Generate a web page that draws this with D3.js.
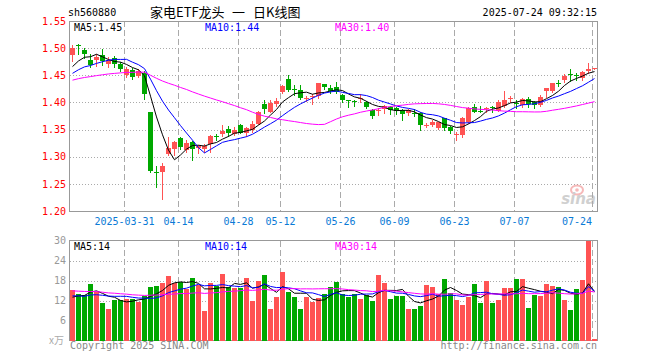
<!DOCTYPE html>
<html><head><meta charset="utf-8">
<script src="https://cdn.jsdelivr.net/npm/d3@7/dist/d3.min.js"></script>
<style>body{margin:0;background:#fff}svg{display:block}</style>
</head><body><svg id="c" width="660" height="360"></svg>
<script>
// ---------- DATA ----------
const dates = ["2025-03-18","2025-03-19","2025-03-20","2025-03-21","2025-03-24","2025-03-25","2025-03-26","2025-03-27","2025-03-28","2025-03-31",
"2025-04-01","2025-04-02","2025-04-03","2025-04-07","2025-04-08","2025-04-09","2025-04-10","2025-04-11","2025-04-14","2025-04-15",
"2025-04-16","2025-04-17","2025-04-18","2025-04-21","2025-04-22","2025-04-23","2025-04-24","2025-04-25","2025-04-28","2025-04-29",
"2025-04-30","2025-05-06","2025-05-07","2025-05-08","2025-05-09","2025-05-12","2025-05-13","2025-05-14","2025-05-15","2025-05-16",
"2025-05-19","2025-05-20","2025-05-21","2025-05-22","2025-05-23","2025-05-26","2025-05-27","2025-05-28","2025-05-29","2025-05-30",
"2025-06-03","2025-06-04","2025-06-05","2025-06-06","2025-06-09","2025-06-10","2025-06-11","2025-06-12","2025-06-13","2025-06-16",
"2025-06-17","2025-06-18","2025-06-19","2025-06-20","2025-06-23","2025-06-24","2025-06-25","2025-06-26","2025-06-27","2025-06-30",
"2025-07-01","2025-07-02","2025-07-03","2025-07-04","2025-07-07","2025-07-08","2025-07-09","2025-07-10","2025-07-11","2025-07-14",
"2025-07-15","2025-07-16","2025-07-17","2025-07-18","2025-07-21","2025-07-22","2025-07-23","2025-07-24"];

const open = [1.487,1.506,1.497,1.478,1.477,1.487,1.471,1.482,1.471,1.451,
1.460,1.449,1.455,1.383,1.272,1.272,1.305,1.316,1.335,1.313,
1.328,1.316,1.314,1.324,1.3385,1.341,1.351,1.342,1.359,1.342,
1.350,1.3615,1.398,1.383,1.398,1.419,1.443,1.4255,1.422,1.408,
1.409,1.411,1.434,1.427,1.429,1.4137,1.404,1.4025,1.406,1.401,
1.386,1.385,1.388,1.392,1.389,1.386,1.380,1.3805,1.380,1.358,
1.3597,1.353,1.3707,1.3553,1.3395,1.3388,1.3645,1.392,1.3845,1.3895,
1.391,1.385,1.393,1.4085,1.3985,1.394,1.4065,1.4014,1.3965,1.4198,
1.4198,1.4365,1.4413,1.4515,1.451,1.446,1.4585,1.4628];

const high = [1.505,1.507,1.500,1.490,1.489,1.499,1.483,1.485,1.475,1.465,
1.463,1.462,1.458,1.383,1.282,1.288,1.337,1.329,1.337,1.331,
1.329,1.322,1.323,1.340,1.342,1.358,1.357,1.355,1.361,1.355,
1.366,1.384,1.404,1.4045,1.408,1.432,1.450,1.432,1.433,1.4125,
1.415,1.436,1.434,1.433,1.438,1.415,1.405,1.4045,1.415,1.4035,
1.388,1.390,1.395,1.394,1.392,1.388,1.388,1.388,1.382,1.3625,
1.367,1.3646,1.372,1.357,1.346,1.374,1.392,1.398,1.394,1.391,
1.394,1.405,1.421,1.411,1.4045,1.4075,1.4106,1.4026,1.4137,1.427,
1.436,1.441,1.452,1.462,1.455,1.458,1.472,1.4634];

const low = [1.476,1.490,1.482,1.465,1.468,1.469,1.466,1.466,1.458,1.447,
1.444,1.446,1.406,1.272,1.245,1.223,1.304,1.304,1.315,1.309,
1.294,1.306,1.308,1.308,1.331,1.339,1.338,1.340,1.343,1.338,
1.346,1.360,1.381,1.382,1.394,1.417,1.421,1.414,1.407,1.4035,
1.397,1.409,1.425,1.418,1.418,1.400,1.392,1.393,1.400,1.389,
1.3707,1.377,1.380,1.378,1.378,1.3676,1.377,1.375,1.349,1.355,
1.357,1.3505,1.349,1.343,1.331,1.337,1.363,1.3817,1.383,1.383,
1.383,1.385,1.392,1.4005,1.389,1.392,1.392,1.390,1.394,1.4106,
1.4186,1.430,1.438,1.440,1.441,1.4413,1.4545,1.462];

const close = [1.4997,1.504,1.489,1.468,1.483,1.476,1.479,1.471,1.462,1.462,
1.4475,1.458,1.416,1.274,1.271,1.283,1.316,1.328,1.318,1.325,
1.316,1.319,1.320,1.338,1.338,1.347,1.344,1.350,1.345,1.352,
1.361,1.383,1.388,1.3996,1.4035,1.430,1.423,1.4245,1.408,1.409,
1.411,1.435,1.429,1.421,1.420,1.4045,1.4035,1.402,1.408,1.392,
1.3756,1.386,1.394,1.386,1.383,1.378,1.386,1.380,1.357,1.359,
1.3646,1.3633,1.3523,1.348,1.341,1.3707,1.390,1.3835,1.384,1.3905,
1.3905,1.401,1.4045,1.409,1.398,1.4055,1.397,1.3955,1.4106,1.426,
1.435,1.436,1.4485,1.451,1.4505,1.4567,1.4625,1.4634];

// volume in 万 (10k) lots
const volume = [15.2,13.9,13.7,17.0,14.7,11.4,9.6,12.2,12.2,12.5,
12.4,11.7,13.4,16.1,16.4,17.4,19.4,17.2,17.5,15.5,
18.8,16.7,9.0,17.3,16.5,20.0,16.1,15.7,15.9,18.8,
12.0,18.0,19.7,9.5,13.1,20.6,14.6,13.1,9.5,13.1,
11.6,12.8,14.0,16.1,17.7,13.9,13.2,13.9,12.5,13.7,
11.9,19.7,17.4,12.5,13.5,13.5,9.5,9.5,10.4,16.7,
16.1,13.9,18.5,14.3,12.2,10.7,13.1,17.0,11.3,17.9,
11.3,12.2,15.8,15.8,18.5,18.5,9.8,13.7,13.4,17.0,
16.4,16.1,12.2,9.2,15.5,18.2,30.0,0.5];

// 29 sessions before the visible window (needed for the moving averages)
const closeHistory = [1.420,1.425,1.418,1.430,1.428,1.435,1.440,1.432,1.438,1.445,
1.436,1.430,1.442,1.438,1.434,1.440,1.436,1.441,1.437,1.449,
1.438,1.436,1.443,1.444,1.445,1.452,1.455,1.463,1.4603];
const volumeHistory = [17,16,18,15,17,16,15,17,16,18,15,16,
14,15,14,16,15,13,16,14,
14,15,13,14,13,12,13,12,12.8];

const priceTicks = [1.55,1.50,1.45,1.40,1.35,1.30,1.25,1.20];
const volumeTicks = [30,24,18,12,6];
const dateTicks = ["2025-03-31","2025-04-14","2025-04-28","2025-05-12","2025-05-26","2025-06-09","2025-06-23","2025-07-07","2025-07-24"];
const dateTickLabels = ["2025-03-31","04-14","04-28","05-12","05-26","06-09","06-23","07-07","07-24"];
const titleParts = ["家电ETF龙头", "一", "日K线图"];
const maPeriods = [5,10,30];
const maColors = ["#000000","#0000ff","#ff00ff"];

// ---------- LAYOUT ----------
const svg = d3.select("#c");
const L = 70, R = 598;
const UP = "#ff5353", DOWN = "#00a800";
const mono = "'DejaVu Sans Mono', monospace";
const cjk = "'Noto Sans CJK SC', sans-serif";

const x = d3.scaleBand().domain(dates).range([L, R]).padding(0);
const bw = x.bandwidth() - 1; // 5px bodies
const cx = d => x(d) + 2.5;

const y = d3.scaleLinear().domain([1.20, 1.55]).range([211, 21]);
const yv = d3.scaleLinear().domain([0, 30]).range([340.5, 240.5]);

function movingAvg(series, history, n) {
  const full = history.concat(series);
  const off = history.length;
  return series.map((_, i) => d3.mean(full.slice(off + i - n + 1, off + i + 1)));
}
const trunc2 = v => (Math.floor(v * 100 + 1e-9) / 100).toFixed(2);

// ---------- HEADER ----------
svg.append("text").attr("x", 68).attr("y", 16).attr("font-family", mono).attr("font-size", 10)
  .attr("fill", "#000").text("sh560880");
const titleX = [150, 232, 253];
titleParts.forEach((t, i) => {
  svg.append("text").attr("x", titleX[i]).attr("y", 17).attr("font-family", cjk)
    .attr("font-size", 13).attr("fill", "#000").text(t);
});
svg.append("text").attr("x", 597).attr("y", 16).attr("text-anchor", "end").attr("font-family", mono)
  .attr("font-size", 10).attr("fill", "#000").text("2025-07-24 09:32:15");

// ---------- PANELS: grids ----------
function panel(top, bottom, yScale, ticks, gridTicks, labelColor, fmt) {
  const g = svg.append("g");
  g.append("g").attr("transform", `translate(${L},0)`)
    .call(d3.axisLeft(yScale).tickValues(gridTicks).tickSize(-(R - L - 1)).tickFormat(""))
    .call(s => s.select(".domain").remove())
    .call(s => s.selectAll("line").attr("stroke", "#aaa").attr("stroke-dasharray", "1,2")
      .attr("shape-rendering", "crispEdges"));
  g.selectAll("line.vg").data(dateTicks).join("line").attr("class", "vg")
    .attr("x1", d => x(d) + 0.5).attr("x2", d => x(d) + 0.5)
    .attr("y1", top).attr("y2", bottom)
    .attr("stroke", "#aaa").attr("stroke-dasharray", "6,3").attr("shape-rendering", "crispEdges");
  const ax = g.append("g").attr("transform", `translate(${L - 1},0)`)
    .call(d3.axisLeft(yScale).tickValues(ticks).tickSize(0).tickPadding(3).tickFormat(fmt));
  ax.select(".domain").remove();
  ax.selectAll("text").attr("font-family", mono).attr("font-size", 10).attr("fill", labelColor);
  g.append("rect").attr("x", L - 0.5).attr("y", top).attr("width", R - L).attr("height", bottom - top)
    .attr("fill", "none").attr("stroke", "#999").attr("shape-rendering", "crispEdges");
  return g;
}
panel(21, 211, y, priceTicks, priceTicks.slice(1, -1), "#ff0000", d3.format(".2f"));
panel(240.5, 340.5, yv, volumeTicks, volumeTicks.slice(1), "#999", d3.format("d"));

svg.append("text").attr("x", 64).attr("y", 344).attr("text-anchor", "end").attr("font-family", cjk)
  .attr("font-size", 10).attr("fill", "#aaa").text("x万");

svg.selectAll("text.dl").data(dateTicks).join("text").attr("class", "dl")
  .attr("x", (d, i) => i === dateTicks.length - 1 ? x(d) : x(d) + 0.5)
  .attr("y", 225)
  .attr("text-anchor", (d, i) => i === dateTicks.length - 1 ? "end" : "middle")
  .attr("font-family", mono).attr("font-size", 10).attr("fill", "#0a7ad6")
  .text((d, i) => dateTickLabels[i]);

// ---------- CANDLES ----------
const idx = d3.range(dates.length);
const col = i => close[i] >= open[i] ? UP : DOWN;
const cg = svg.append("g").attr("shape-rendering", "crispEdges");
cg.selectAll("line.wick").data(idx).join("line").attr("class", "wick")
  .attr("x1", i => cx(dates[i])).attr("x2", i => cx(dates[i]))
  .attr("y1", i => Math.round(y(high[i]))).attr("y2", i => Math.round(y(low[i])) + 1)
  .attr("stroke", col);
cg.selectAll("rect.body").data(idx).join("rect").attr("class", "body")
  .attr("x", i => x(dates[i]))
  .attr("y", i => Math.round(Math.min(y(open[i]), y(close[i]))))
  .attr("width", bw)
  .attr("height", i => Math.max(1, Math.round(Math.abs(y(open[i]) - y(close[i])))))
  .attr("fill", col);

const priceMA = maPeriods.map(n => movingAvg(close, closeHistory, n));
const line = d3.line().x((v, i) => cx(dates[i])).y(v => y(v));
priceMA.forEach((m, k) => {
  svg.append("path").attr("d", line(m)).attr("fill", "none").attr("stroke", maColors[k]).attr("stroke-width", 1);
});

// ---------- VOLUME ----------
const vg = svg.append("g").attr("shape-rendering", "crispEdges");
vg.selectAll("rect").data(idx).join("rect")
  .attr("x", i => x(dates[i]))
  .attr("y", i => Math.round(yv(volume[i])))
  .attr("width", bw)
  .attr("height", i => Math.max(1, 340.5 - Math.round(yv(volume[i]))))
  .attr("fill", col);
const volMA = maPeriods.map(n => movingAvg(volume, volumeHistory, n));
const vline = d3.line().x((v, i) => cx(dates[i])).y(v => yv(v));
volMA.forEach((m, k) => {
  svg.append("path").attr("d", vline(m)).attr("fill", "none").attr("stroke", maColors[k]).attr("stroke-width", 1);
});

// ---------- LEGENDS ----------
const legX = [74, 205, 335];
const last = dates.length - 1;
maPeriods.forEach((n, k) => {
  svg.append("text").attr("x", legX[k]).attr("y", 31).attr("font-family", mono).attr("font-size", 10)
    .attr("fill", maColors[k]).text(`MA${n}:${trunc2(priceMA[k][last])}`);
  svg.append("text").attr("x", legX[k]).attr("y", 250).attr("font-family", mono).attr("font-size", 10)
    .attr("fill", maColors[k]).text(`MA${n}:${Math.floor(volMA[k][last])}`);
});

// ---------- FOOTER / WATERMARK ----------
svg.append("text").attr("x", 70).attr("y", 349).attr("font-family", mono).attr("font-size", 10)
  .attr("fill", "#888").text("Copyright 2025 SINA.COM");
svg.append("text").attr("x", 597).attr("y", 349).attr("text-anchor", "end").attr("font-family", mono)
  .attr("font-size", 10).attr("fill", "#888").text("http://finance.sina.com.cn");

const wm = svg.append("g").attr("opacity", 0.55);
wm.append("ellipse").attr("cx", 577).attr("cy", 190).attr("rx", 6).attr("ry", 4.5)
  .attr("fill", "none").attr("stroke", "#f08080").attr("stroke-width", 2);
wm.append("circle").attr("cx", 577).attr("cy", 190).attr("r", 1.8).attr("fill", "#f08080");
wm.append("text").attr("x", 596).attr("y", 204).attr("text-anchor", "end")
  .attr("font-family", "'DejaVu Sans', sans-serif").attr("font-weight", "bold").attr("font-style", "italic")
  .attr("font-size", 15).attr("fill", "#aaa").text("sina");
</script>
</body></html>
